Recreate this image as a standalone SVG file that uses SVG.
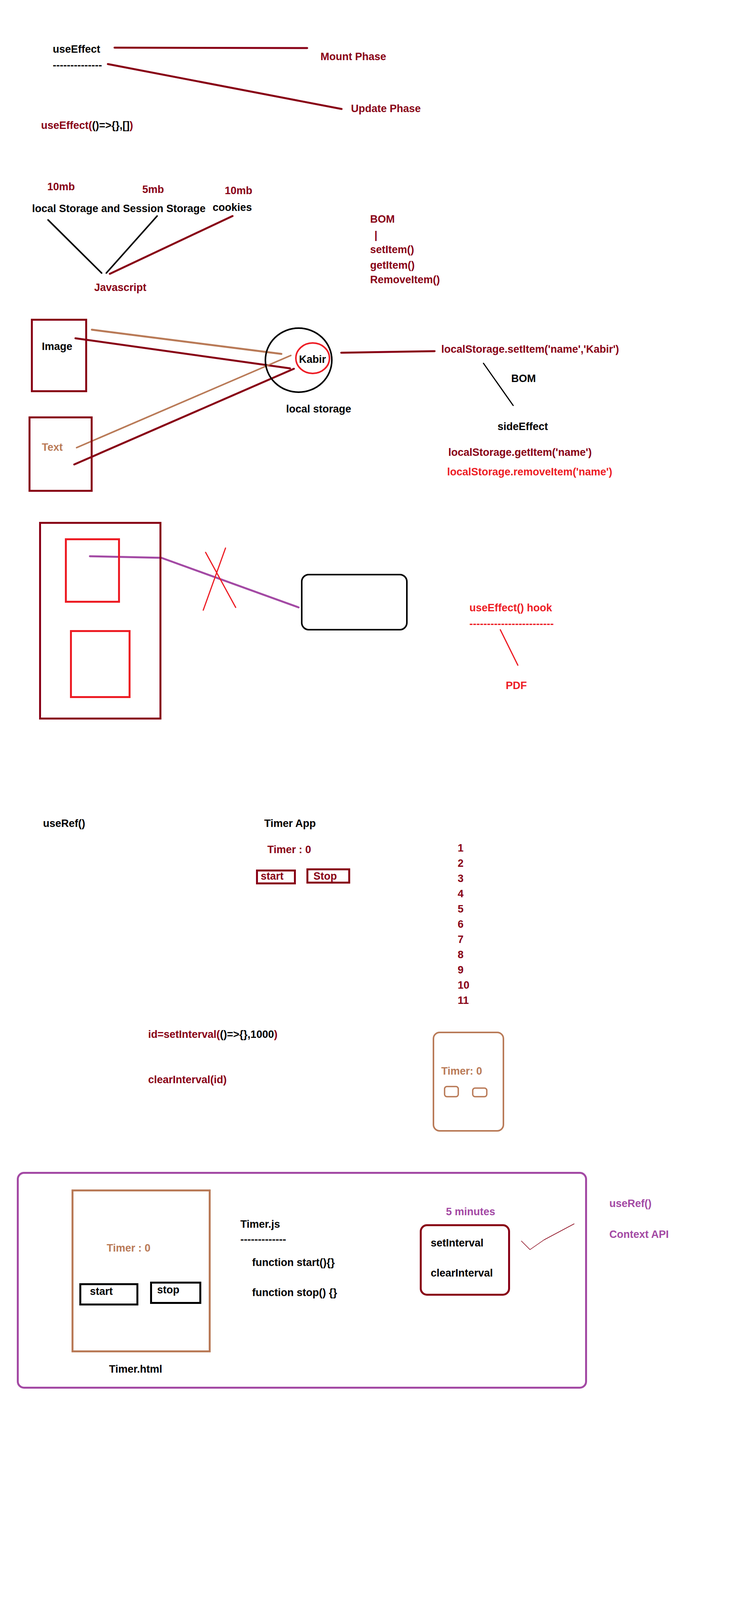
<svg xmlns="http://www.w3.org/2000/svg" width="1878" height="6489" viewBox="0 0 1878 6489">
<style>
.t{font-family:"Liberation Sans",Arial,sans-serif;font-weight:bold;font-size:27px}
.k{fill:#000000}.dr{fill:#880015}.rd{fill:#ed1c24}.tn{fill:#b97a57}.pu{fill:#a349a4}
.ln{fill:none;stroke-linecap:round;stroke-linejoin:round}
.box{fill:none}
</style>
<rect x="0" y="0" width="1878" height="6489" fill="#ffffff"/>

<g id="connectors" class="ln">
  <line x1="293" y1="122" x2="786" y2="123" stroke="#880015" stroke-width="5"/>
  <line x1="276" y1="164" x2="874" y2="279" stroke="#880015" stroke-width="5"/>
  <line x1="123" y1="563" x2="260" y2="699" stroke="#000000" stroke-width="4"/>
  <line x1="402" y1="553" x2="272" y2="699" stroke="#000000" stroke-width="4"/>
  <line x1="595" y1="553" x2="281" y2="701" stroke="#880015" stroke-width="5"/>
  <line x1="235" y1="844" x2="720" y2="906" stroke="#b97a57" stroke-width="5"/>
  <line x1="193" y1="866" x2="742" y2="943" stroke="#880015" stroke-width="5"/>
  <line x1="196" y1="1146" x2="744" y2="910" stroke="#b97a57" stroke-width="4"/>
  <line x1="190" y1="1189" x2="752" y2="944" stroke="#880015" stroke-width="5"/>
  <line x1="873" y1="903" x2="1112" y2="899" stroke="#880015" stroke-width="5"/>
  <line x1="1237" y1="930" x2="1313" y2="1038" stroke="#000000" stroke-width="3"/>
  <polyline points="230,1424 413,1428 764,1555" stroke="#a349a4" stroke-width="5"/>
  <line x1="526" y1="1414" x2="603" y2="1555" stroke="#ed1c24" stroke-width="3"/>
  <line x1="577" y1="1403" x2="520" y2="1562" stroke="#ed1c24" stroke-width="3"/>
  <line x1="1280" y1="1612" x2="1325" y2="1703" stroke="#ed1c24" stroke-width="3"/>
  <polyline points="1334,3177 1356,3199 1392,3174 1469,3133" stroke="#880015" stroke-width="1.5"/>
</g>

<g id="useEffect-section">
  <text class="t k" x="135" y="135">useEffect</text>
  <text class="t k" x="135" y="176">--------------</text>
  <text class="t dr" x="820" y="154">Mount Phase</text>
  <text class="t dr" x="898" y="287">Update Phase</text>
  <text class="t dr" x="105" y="330">useEffect(<tspan class="k">()=&gt;{},[]</tspan>)</text>
</g>

<g id="storage-section">
  <text class="t dr" x="121" y="487">10mb</text>
  <text class="t dr" x="364" y="494">5mb</text>
  <text class="t dr" x="575" y="497">10mb</text>
  <text class="t k" x="82" y="543">local Storage and Session Storage</text>
  <text class="t k" x="544" y="540">cookies</text>
  <text class="t dr" x="241" y="745">Javascript</text>
</g>

<g id="bom-list">
  <text class="t dr" x="947" y="570">BOM</text>
  <text class="t dr" x="958" y="611">|</text>
  <text class="t dr" x="947" y="648">setItem()</text>
  <text class="t dr" x="947" y="688">getItem()</text>
  <text class="t dr" x="947" y="725">RemoveItem()</text>
</g>

<g id="image-node">
  <rect class="box" x="81.5" y="818.5" width="139" height="183" stroke="#880015" stroke-width="5"/>
  <text class="t k" x="107" y="896">Image</text>
</g>

<g id="text-node">
  <rect class="box" x="75.5" y="1068.5" width="159" height="188" stroke="#880015" stroke-width="5"/>
  <text class="t tn" x="107" y="1154">Text</text>
</g>

<g id="local-storage-node">
  <ellipse cx="764" cy="922" rx="85" ry="82" fill="none" stroke="#000000" stroke-width="4"/>
  <ellipse cx="800" cy="917" rx="43" ry="39" fill="none" stroke="#ed1c24" stroke-width="4"/>
  <text class="t k" x="765" y="929">Kabir</text>
  <text class="t k" x="732" y="1056">local storage</text>
</g>

<g id="localstorage-api">
  <text class="t dr" x="1129" y="903">localStorage.setItem('name','Kabir')</text>
  <text class="t k" x="1308" y="978">BOM</text>
  <text class="t k" x="1273" y="1101">sideEffect</text>
  <text class="t dr" x="1147" y="1167">localStorage.getItem('name')</text>
  <text class="t rd" x="1144" y="1217">localStorage.removeItem('name')</text>
</g>

<g id="page-node">
  <rect class="box" x="102.5" y="1338.5" width="308" height="501" stroke="#880015" stroke-width="5"/>
  <rect class="box" x="168.5" y="1380.5" width="136" height="160" stroke="#ed1c24" stroke-width="5"/>
  <rect class="box" x="181.5" y="1615.5" width="150" height="169" stroke="#ed1c24" stroke-width="5"/>
</g>

<g id="target-node">
  <rect class="box" x="772" y="1471" width="269" height="141" rx="18" stroke="#000000" stroke-width="4"/>
</g>

<g id="useeffect-hook">
  <text class="t rd" x="1201" y="1565">useEffect() hook</text>
  <text class="t rd" x="1201" y="1606">------------------------</text>
  <text class="t rd" x="1294" y="1764">PDF</text>
</g>

<g id="useref-title">
  <text class="t k" x="110" y="2117">useRef()</text>
</g>

<g id="timer-app">
  <text class="t k" x="676" y="2117">Timer App</text>
  <text class="t dr" x="684" y="2184">Timer : 0</text>
  <rect class="box" x="657.5" y="2228.5" width="97" height="33" stroke="#880015" stroke-width="5"/>
  <text class="t dr" x="667" y="2252">start</text>
  <rect class="box" x="786.5" y="2225.5" width="107" height="34" stroke="#880015" stroke-width="5"/>
  <text class="t dr" x="802" y="2252">Stop</text>
</g>

<g id="counter">
  <text class="t dr" x="1171" y="2180">1</text>
  <text class="t dr" x="1171" y="2219">2</text>
  <text class="t dr" x="1171" y="2258">3</text>
  <text class="t dr" x="1171" y="2297">4</text>
  <text class="t dr" x="1171" y="2336">5</text>
  <text class="t dr" x="1171" y="2375">6</text>
  <text class="t dr" x="1171" y="2414">7</text>
  <text class="t dr" x="1171" y="2453">8</text>
  <text class="t dr" x="1171" y="2492">9</text>
  <text class="t dr" x="1171" y="2531">10</text>
  <text class="t dr" x="1171" y="2570">11</text>
</g>

<g id="interval-code">
  <text class="t dr" x="379" y="2657">id=setInterval(<tspan class="k">()=&gt;{},1000</tspan>)</text>
  <text class="t dr" x="379" y="2773">clearInterval(id)</text>
</g>

<g id="timer-widget">
  <rect class="box" x="1109" y="2643" width="179" height="252" rx="16" stroke="#b97a57" stroke-width="4"/>
  <text class="t tn" x="1129" y="2751">Timer: 0</text>
  <rect class="box" x="1137.5" y="2781.5" width="35" height="26" rx="6" stroke="#b97a57" stroke-width="3.5"/>
  <rect class="box" x="1209.5" y="2785.5" width="36" height="22" rx="6" stroke="#b97a57" stroke-width="3.5"/>
</g>

<g id="timer-project">
  <rect class="box" x="45.5" y="3002.5" width="1454" height="550" rx="16" stroke="#a349a4" stroke-width="5"/>
</g>

<g id="timer-html">
  <rect class="box" x="185.5" y="3047.5" width="351" height="412" stroke="#b97a57" stroke-width="5"/>
  <text class="t tn" x="273" y="3204">Timer : 0</text>
  <rect class="box" x="205.5" y="3287.5" width="146" height="52" stroke="#000000" stroke-width="5"/>
  <text class="t k" x="230" y="3315">start</text>
  <rect class="box" x="386.5" y="3283.5" width="126" height="52" stroke="#000000" stroke-width="5"/>
  <text class="t k" x="402" y="3311">stop</text>
  <text class="t k" x="279" y="3514">Timer.html</text>
</g>

<g id="timer-js">
  <text class="t k" x="615" y="3143">Timer.js</text>
  <text class="t k" x="615" y="3182">-------------</text>
  <text class="t k" x="645" y="3241">function start(){}</text>
  <text class="t k" x="645" y="3318">function stop() {}</text>
</g>

<g id="interval-box">
  <text class="t pu" x="1141" y="3111">5 minutes</text>
  <rect class="box" x="1076.5" y="3136.5" width="226" height="178" rx="16" stroke="#880015" stroke-width="5"/>
  <text class="t k" x="1102" y="3191">setInterval</text>
  <text class="t k" x="1102" y="3268">clearInterval</text>
</g>

<g id="notes">
  <text class="t pu" x="1559" y="3090">useRef()</text>
  <text class="t pu" x="1559" y="3169">Context API</text>
</g>
</svg>
